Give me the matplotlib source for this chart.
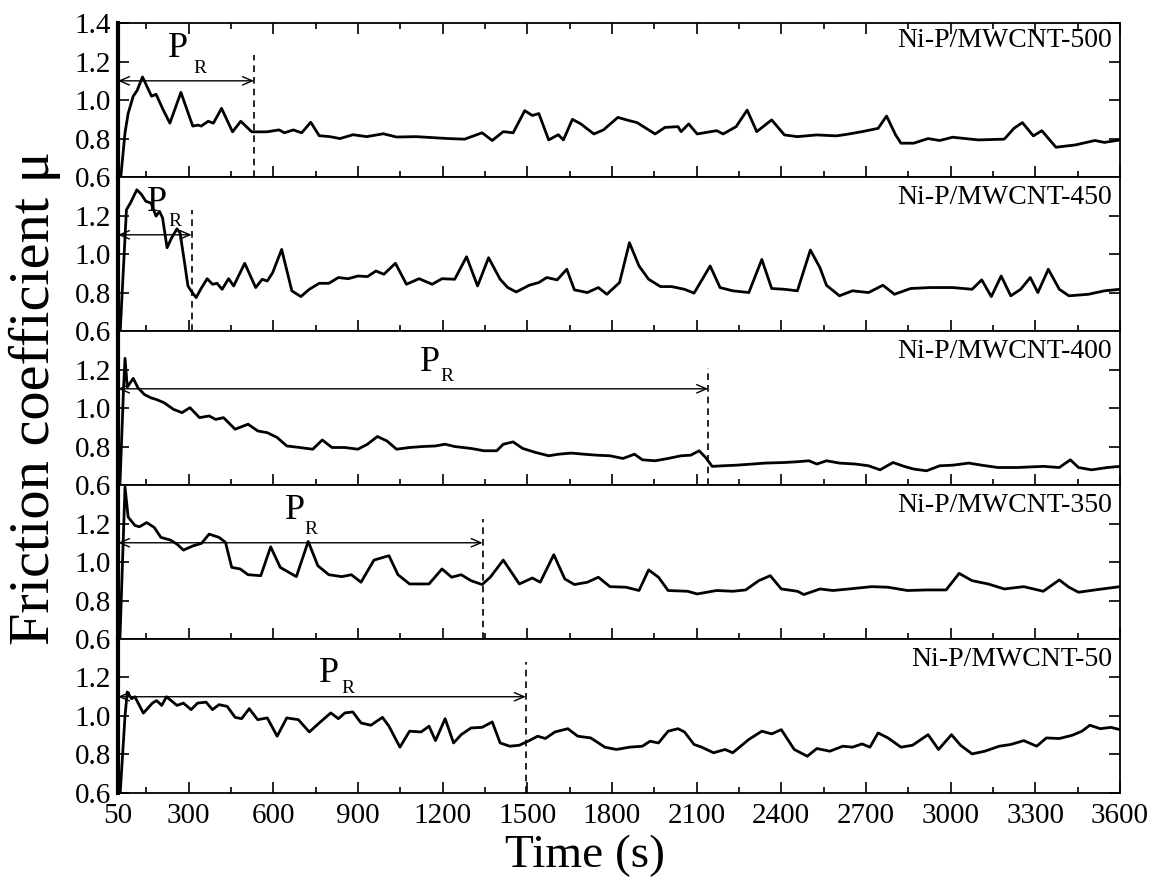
import matplotlib
matplotlib.use("Agg")
import matplotlib.pyplot as plt
import numpy as np
from matplotlib.ticker import FixedLocator, FormatStrFormatter

plt.rcParams["font.family"] = ["Liberation Serif", "DejaVu Serif"]

# (time s, friction coefficient)
NIP_500 = [
    (60, 0.60), (75, 0.83), (86, 0.93), (104, 1.02), (118, 1.05), (137, 1.12),
    (169, 1.02), (185, 1.03), (210, 0.95), (234, 0.88), (273, 1.04), (315, 0.865),
    (334, 0.87), (345, 0.865), (370, 0.89), (388, 0.88), (417, 0.957), (456, 0.835),
    (485, 0.89), (524, 0.835), (577, 0.835), (621, 0.845), (640, 0.83), (671, 0.845),
    (701, 0.83), (733, 0.885), (763, 0.815), (801, 0.81), (836, 0.80), (883, 0.82),
    (931, 0.81), (990, 0.825), (1037, 0.808), (1106, 0.81), (1221, 0.80), (1278, 0.797),
    (1340, 0.83), (1376, 0.79), (1415, 0.836), (1450, 0.83), (1491, 0.945), (1518, 0.92),
    (1541, 0.93), (1576, 0.793), (1610, 0.82), (1628, 0.793), (1660, 0.90), (1690, 0.876),
    (1736, 0.824), (1770, 0.845), (1821, 0.91), (1862, 0.893), (1889, 0.883), (1953, 0.824),
    (1988, 0.858), (2034, 0.862), (2045, 0.836), (2072, 0.876), (2102, 0.824), (2171, 0.841),
    (2194, 0.824), (2240, 0.862), (2279, 0.948), (2313, 0.836), (2366, 0.897), (2411, 0.819),
    (2457, 0.81), (2526, 0.819), (2595, 0.814), (2640, 0.824), (2686, 0.836), (2743, 0.853),
    (2773, 0.917), (2805, 0.819), (2824, 0.776), (2869, 0.776), (2920, 0.80), (2961, 0.79),
    (3007, 0.807), (3098, 0.793), (3190, 0.797), (3224, 0.853), (3254, 0.883), (3293, 0.814),
    (3323, 0.841), (3373, 0.755), (3442, 0.767), (3511, 0.79), (3545, 0.78), (3600, 0.793),
]

NIP_450 = [
    (58, 0.60), (80, 1.23), (94, 1.265), (117, 1.334), (133, 1.31), (149, 1.274),
    (167, 1.265), (185, 1.197), (197, 1.222), (208, 1.188), (224, 1.033), (240, 1.084),
    (259, 1.131), (270, 1.11), (286, 0.955), (298, 0.834), (309, 0.809), (327, 0.774),
    (343, 0.817), (366, 0.872), (385, 0.843), (401, 0.848), (419, 0.817), (442, 0.872),
    (460, 0.834), (499, 0.952), (538, 0.826), (561, 0.869), (579, 0.86), (598, 0.903),
    (630, 1.024), (666, 0.809), (698, 0.779), (728, 0.817), (763, 0.848), (797, 0.848),
    (831, 0.878), (866, 0.872), (900, 0.886), (934, 0.883), (964, 0.912), (992, 0.895),
    (1033, 0.952), (1072, 0.843), (1117, 0.872), (1163, 0.843), (1198, 0.872), (1243, 0.869),
    (1285, 0.986), (1324, 0.834), (1363, 0.981), (1404, 0.869), (1431, 0.826), (1461, 0.803),
    (1507, 0.838), (1541, 0.852), (1569, 0.878), (1606, 0.866), (1640, 0.921), (1667, 0.814),
    (1713, 0.80), (1752, 0.826), (1782, 0.791), (1827, 0.852), (1862, 1.059), (1896, 0.938),
    (1930, 0.869), (1972, 0.831), (2011, 0.831), (2057, 0.817), (2091, 0.797), (2148, 0.938),
    (2183, 0.826), (2228, 0.809), (2285, 0.80), (2331, 0.972), (2366, 0.821), (2411, 0.817),
    (2457, 0.809), (2503, 1.021), (2537, 0.929), (2560, 0.838), (2606, 0.783), (2652, 0.809),
    (2709, 0.80), (2760, 0.838), (2801, 0.791), (2858, 0.821), (2927, 0.826), (3007, 0.826),
    (3076, 0.817), (3110, 0.866), (3144, 0.779), (3179, 0.886), (3213, 0.783), (3248, 0.817),
    (3282, 0.878), (3309, 0.80), (3346, 0.921), (3385, 0.817), (3419, 0.783), (3488, 0.791),
    (3545, 0.809), (3600, 0.817),
]

NIP_400 = [
    (57, 0.60), (70, 1.11), (75, 1.258), (83, 1.109), (104, 1.154), (121, 1.105),
    (144, 1.07), (167, 1.053), (185, 1.045), (213, 1.028), (247, 0.993), (277, 0.976),
    (305, 1.002), (339, 0.95), (373, 0.959), (396, 0.941), (424, 0.95), (465, 0.89),
    (511, 0.916), (545, 0.881), (579, 0.872), (614, 0.847), (648, 0.803), (694, 0.795),
    (740, 0.786), (774, 0.834), (808, 0.795), (854, 0.795), (900, 0.786), (934, 0.812),
    (969, 0.852), (1003, 0.829), (1037, 0.786), (1083, 0.795), (1129, 0.80), (1175, 0.803),
    (1209, 0.812), (1243, 0.80), (1301, 0.79), (1347, 0.778), (1392, 0.778), (1415, 0.812),
    (1450, 0.824), (1484, 0.79), (1530, 0.769), (1576, 0.752), (1610, 0.76), (1656, 0.766),
    (1702, 0.76), (1747, 0.755), (1793, 0.752), (1839, 0.738), (1880, 0.76), (1908, 0.731),
    (1953, 0.726), (1999, 0.738), (2045, 0.752), (2079, 0.755), (2109, 0.778), (2132, 0.743),
    (2155, 0.697), (2194, 0.70), (2240, 0.703), (2297, 0.709), (2343, 0.714), (2411, 0.717),
    (2457, 0.721), (2498, 0.726), (2526, 0.709), (2560, 0.726), (2606, 0.714), (2663, 0.709),
    (2709, 0.70), (2750, 0.679), (2796, 0.717), (2835, 0.697), (2869, 0.683), (2915, 0.674),
    (2961, 0.70), (3007, 0.703), (3064, 0.714), (3110, 0.703), (3167, 0.691), (3236, 0.691),
    (3328, 0.697), (3385, 0.691), (3424, 0.731), (3453, 0.691), (3499, 0.679), (3556, 0.691),
    (3600, 0.697),
]

NIP_350 = [
    (57, 0.60), (75, 1.39), (86, 1.234), (110, 1.19), (126, 1.183), (152, 1.205),
    (179, 1.179), (202, 1.128), (236, 1.114), (259, 1.093), (282, 1.062), (316, 1.084),
    (346, 1.097), (373, 1.145), (408, 1.128), (431, 1.102), (453, 0.972), (483, 0.964),
    (511, 0.934), (556, 0.929), (591, 1.079), (625, 0.972), (682, 0.924), (724, 1.107),
    (758, 0.981), (797, 0.934), (843, 0.924), (877, 0.934), (911, 0.895), (957, 1.01),
    (1010, 1.033), (1042, 0.934), (1083, 0.886), (1152, 0.886), (1198, 0.964), (1232, 0.921),
    (1266, 0.934), (1301, 0.903), (1340, 0.883), (1369, 0.921), (1415, 1.01), (1472, 0.886),
    (1518, 0.917), (1546, 0.895), (1594, 1.038), (1633, 0.912), (1667, 0.883), (1713, 0.895),
    (1752, 0.921), (1793, 0.872), (1850, 0.869), (1896, 0.852), (1930, 0.959), (1965, 0.921),
    (1999, 0.852), (2068, 0.848), (2102, 0.834), (2171, 0.852), (2228, 0.848), (2274, 0.855),
    (2320, 0.903), (2361, 0.929), (2400, 0.86), (2457, 0.848), (2480, 0.831), (2537, 0.86),
    (2583, 0.852), (2640, 0.86), (2720, 0.872), (2778, 0.869), (2847, 0.852), (2915, 0.855),
    (2984, 0.855), (3030, 0.941), (3076, 0.903), (3133, 0.886), (3190, 0.86), (3259, 0.872),
    (3328, 0.848), (3385, 0.907), (3419, 0.869), (3453, 0.843), (3511, 0.855), (3600, 0.872),
]

NIP_50 = [
    (58, 0.60), (75, 1.0), (83, 1.125), (98, 1.09), (110, 1.10), (140, 1.015),
    (172, 1.067), (187, 1.08), (205, 1.055), (222, 1.10), (259, 1.055), (282, 1.067),
    (309, 1.033), (332, 1.067), (362, 1.072), (385, 1.033), (408, 1.059), (437, 1.05),
    (465, 0.993), (488, 0.986), (515, 1.038), (545, 0.981), (579, 0.99), (614, 0.895),
    (648, 0.99), (689, 0.981), (728, 0.917), (767, 0.969), (804, 1.016), (831, 0.986),
    (854, 1.016), (882, 1.021), (911, 0.964), (946, 0.952), (987, 0.993), (1010, 0.947),
    (1049, 0.838), (1083, 0.921), (1124, 0.917), (1152, 0.947), (1175, 0.872), (1209, 0.986),
    (1239, 0.86), (1266, 0.903), (1301, 0.938), (1340, 0.941), (1376, 0.969), (1404, 0.86),
    (1438, 0.843), (1472, 0.848), (1507, 0.872), (1537, 0.895), (1564, 0.883), (1598, 0.917),
    (1644, 0.934), (1679, 0.895), (1725, 0.886), (1775, 0.838), (1816, 0.826), (1862, 0.838),
    (1908, 0.843), (1935, 0.869), (1965, 0.86), (1999, 0.921), (2034, 0.934), (2057, 0.917),
    (2091, 0.852), (2118, 0.838), (2160, 0.809), (2201, 0.826), (2228, 0.809), (2285, 0.878),
    (2331, 0.921), (2366, 0.907), (2400, 0.929), (2446, 0.826), (2492, 0.791), (2526, 0.831),
    (2572, 0.817), (2618, 0.843), (2652, 0.838), (2686, 0.855), (2714, 0.838), (2743, 0.912),
    (2778, 0.886), (2824, 0.838), (2865, 0.848), (2920, 0.903), (2957, 0.826), (3003, 0.903),
    (3035, 0.848), (3076, 0.803), (3121, 0.817), (3172, 0.843), (3213, 0.852), (3259, 0.872),
    (3305, 0.843), (3339, 0.886), (3385, 0.883), (3431, 0.90), (3465, 0.921), (3493, 0.952),
    (3530, 0.934), (3568, 0.941), (3600, 0.929),
]

SAMPLES = ["Ni-P/MWCNT-500", "Ni-P/MWCNT-450", "Ni-P/MWCNT-400",
           "Ni-P/MWCNT-350", "Ni-P/MWCNT-50"]
CURVES = [NIP_500, NIP_450, NIP_400, NIP_350, NIP_50]

# running-in period end (s) and the P_R annotation
PR_END = [532, 311, 2141, 1342, 1495]
PR_TOP = [1.234, 1.228, 1.209, 1.222, 1.279]
P_POS = [(262, 1.27), (188, 1.266), (1156, 1.238), (676, 1.266), (799, 1.222)]
R_POS = [(340, 1.166), (252, 1.168), (1216, 1.162), (735, 1.167), (866, 1.145)]
ARROW_Y = 1.1

X_MAJOR = [50, 300, 600, 900, 1200, 1500, 1800, 2100, 2400, 2700, 3000, 3300, 3600]
X_MINOR = [150, 450, 750, 1050, 1350, 1650, 1950, 2250, 2550, 2850, 3150, 3450]


def main() -> None:
    fig, axes = plt.subplots(5, 1, sharex=True, figsize=(11.61, 8.88), dpi=100,
                             gridspec_kw=dict(hspace=0))
    fig.subplots_adjust(left=0.1016, right=0.9647, top=0.974, bottom=0.107)

    for i, ax in enumerate(axes):
        data = np.array(CURVES[i])
        ax.plot(data[:, 0], data[:, 1], color="black", lw=2.0)
        ax.set_xlim(50, 3600)
        ax.set_ylim(0.6, 1.4)

        x_end = PR_END[i]
        ax.plot([x_end, x_end], [0.6, PR_TOP[i]], color="black", lw=1.2,
                linestyle=(0, (4, 3)))
        ax.annotate("", xy=(x_end, ARROW_Y), xytext=(50, ARROW_Y),
                    arrowprops=dict(arrowstyle="<->,head_length=0.7,head_width=0.3",
                                    color="black", lw=1.0, shrinkA=0, shrinkB=0))
        ax.text(*P_POS[i], "P", fontsize=26, ha="center", va="center")
        ax.text(*R_POS[i], "R", fontsize=14, ha="center", va="center")
        ax.text(0.992, 0.89 if i == 0 else 0.87, SAMPLES[i], transform=ax.transAxes,
                fontsize=20, ha="right", va="center")

        yt = [0.6, 0.8, 1.0, 1.2, 1.4] if i == 0 else [0.6, 0.8, 1.0, 1.2]
        ax.set_yticks(yt)
        ax.yaxis.set_major_formatter(FormatStrFormatter("%.1f"))
        ax.xaxis.set_major_locator(FixedLocator(X_MAJOR))
        ax.xaxis.set_minor_locator(FixedLocator(X_MINOR))
        ax.tick_params(which="both", direction="in", top=(i == 0), right=True,
                       labelsize=21, width=1.2)
        ax.tick_params(axis="y", pad=5)
        ax.tick_params(axis="x", pad=7)
        ax.tick_params(which="major", length=8)
        ax.tick_params(which="minor", length=4)
        for side in ["top", "right", "bottom"]:
            ax.spines[side].set_linewidth(1.3)
        ax.spines["left"].set_linewidth(3.0)

    axes[-1].set_xticklabels([str(v) for v in X_MAJOR])
    fig.text(0.504, 0.036, "Time (s)", fontsize=34, ha="center", va="center")
    fig.text(0.03, 0.552, "Friction coefficient \u03bc", fontsize=42,
             rotation=90, ha="center", va="center")

    fig.savefig("out.png", dpi=100)


if __name__ == "__main__":
    main()
